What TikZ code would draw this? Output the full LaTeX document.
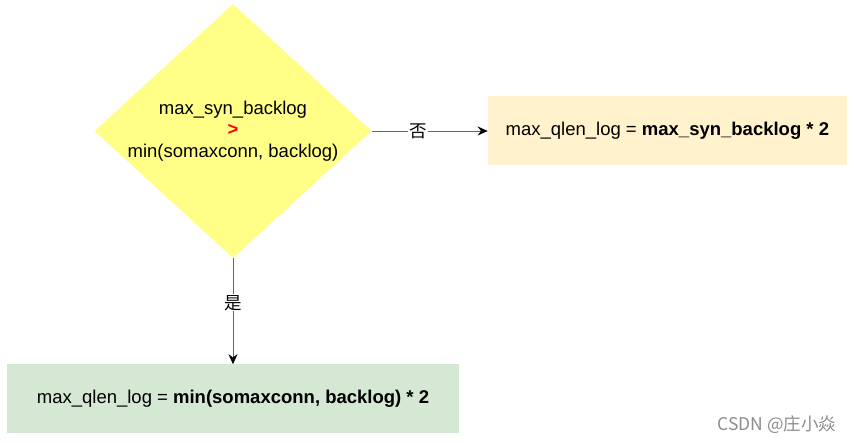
\documentclass[tikz,border=0pt]{standalone}
\usepackage{fontspec}
\setmainfont{Liberation Sans}
\newfontfamily\cjk{Noto Sans CJK SC}
\usepackage{xcolor}
\usetikzlibrary{arrows.meta, positioning, shapes.geometric}
\definecolor{decfill}{HTML}{FFFF88}
\definecolor{nofill}{HTML}{FFF2CC}
\definecolor{yesfill}{HTML}{D5E8D4}
\definecolor{gtred}{HTML}{FF0000}

\begin{document}
\begin{tikzpicture}[
    x=1pt, y=-1pt,
    font=\fontsize{18.5}{21.5}\selectfont,
    dec_node/.style={diamond, fill=decfill, align=center, inner sep=-3pt, aspect=1.09, minimum width=277pt, minimum height=254pt},
    res_node/.style={rectangle, align=center, inner sep=0pt, minimum height=69pt},
    edge_lbl/.style={fill=white, inner sep=1pt, font=\cjk\fontsize{17.5}{17.5}\selectfont},
    arrow/.style={-{Stealth[length=10pt, width=9pt, color=black]}, line width=0.9pt, draw=black!60}
]
\useasboundingbox (0,0) rectangle (857,443);

% Decision
\node[dec_node] (dec) at (233,131) {max\_syn\_backlog\\{\color{gtred}\bfseries >}\\min(somaxconn, backlog)};

% Results
\node[res_node, fill=nofill, minimum width=359pt, right=116pt of dec] (qno) {max\_qlen\_log = \textbf{max\_syn\_backlog * 2}};
\node[res_node, fill=yesfill, minimum width=452pt, below=106pt of dec] (qyes) {max\_qlen\_log = \textbf{min(somaxconn, backlog) * 2}};

% Arrows
\draw[arrow] (dec.east) -- node[edge_lbl, pos=0.4] {否} (qno.west);
\draw[arrow] (dec.south) -- node[edge_lbl, pos=0.42] {是} (qyes.north);

% Watermark
\node[font=\cjk\fontsize{17.5}{17.5}\selectfont, text=black!45] (mark) at (777,425) {CSDN @庄小焱};

\end{tikzpicture}
\end{document}
